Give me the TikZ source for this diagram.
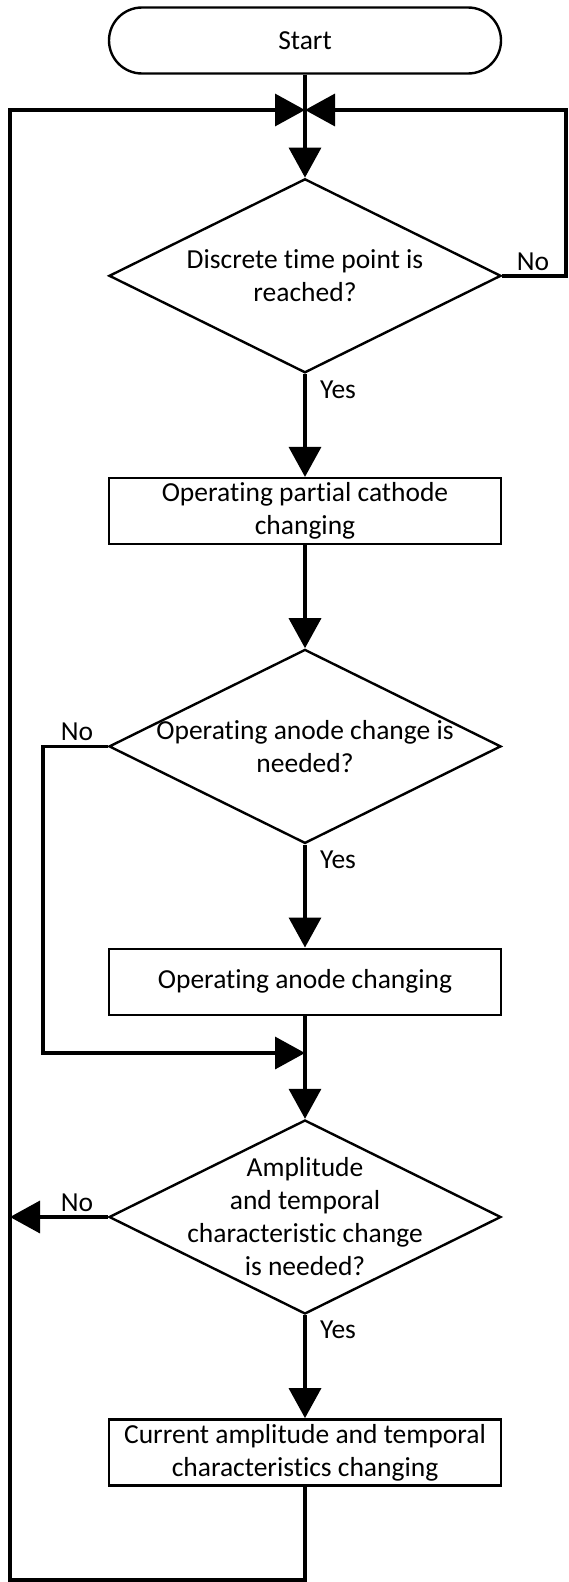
\documentclass[tikz,border=0pt]{standalone}
\usepackage{fontspec}
\setmainfont[Ligatures=NoCommon]{Carlito}
\usepackage{tikz}
\usetikzlibrary{positioning, shapes.geometric, arrows.meta}

\begin{document}
\begin{tikzpicture}[x=1pt, y=1pt, node distance=235.3pt,
font=\fontsize{27.5}{33}\selectfont,
start node/.style={rectangle,rounded corners=33pt,draw,line width=2.4pt,minimum width=392pt,minimum height=66pt,inner sep=0pt},
process node/.style={rectangle,draw,line width=2.4pt,minimum width=392pt,minimum height=66pt,inner sep=0pt,align=center},
decision node/.style={diamond,draw,line width=2.4pt,minimum width=392pt,minimum height=194pt,inner sep=0pt},
flow/.style={line width=3.5pt,-{Triangle[length=30pt,width=32pt]}},
line/.style={line width=3.5pt}]

\useasboundingbox (0,0) rectangle (568,-1582);

\node[start node] (start) at (305,-40.5) {Start};
\node[decision node] (D1) [below of=start] {};
\node[process node] (B1) [below of=D1] {Operating partial cathode\\changing};
\node[decision node] (D2) [below of=B1] {};
\node[process node] (B2) [below of=D2] {Operating anode changing};
\node[decision node] (D3) [below of=B2] {};
\node[process node] (B3) [below of=D3] {Current amplitude and temporal\\characteristics changing};

% texts of the decisions
\node[align=center] (T1) at (D1) {Discrete time point is\\reached?};
\node[align=center] (T2) at (D2) {Operating anode change is\\needed?};
\node[align=center] (T3) at (D3) {Amplitude\\and temporal\\characteristic change\\is needed?};

% junctions and corners
\coordinate (j1) at (305,-110);
\coordinate (j2) at (305,-1053);
\coordinate (tl) at (10,-110);
\coordinate (bl) at (10,-1580);
\coordinate (rt) at (566,-110);
\coordinate (l2b) at (43,-1053);

\draw[flow] (start) -- (D1);
\draw[flow] (D1) -- (B1);
\draw[flow] (B1) -- (D2);
\draw[flow] (D2) -- (B2);
\draw[line] (B2) -- (j2);
\draw[flow] (j2) -- (D3);
\draw[flow] (D3) -- (B3);

\draw[flow] (D1.east) -| (rt) -- (j1);
\draw[flow] (D2.west) -| (l2b) -- (j2);
\draw[flow] (D3.west) -- (D3.west -| bl);
\draw[flow] (B3) -- (B3 |- bl) -- (bl) -- (tl) -- (j1);

\node (Y1) at (338,-390) {Yes};
\node (Y2) at (338,-860) {Yes};
\node (Y3) at (338,-1330) {Yes};
\node (N1) at (533,-262) {No};
\node (N2) at (77,-732) {No};
\node (N3) at (77,-1203) {No};
\end{tikzpicture}
\end{document}
